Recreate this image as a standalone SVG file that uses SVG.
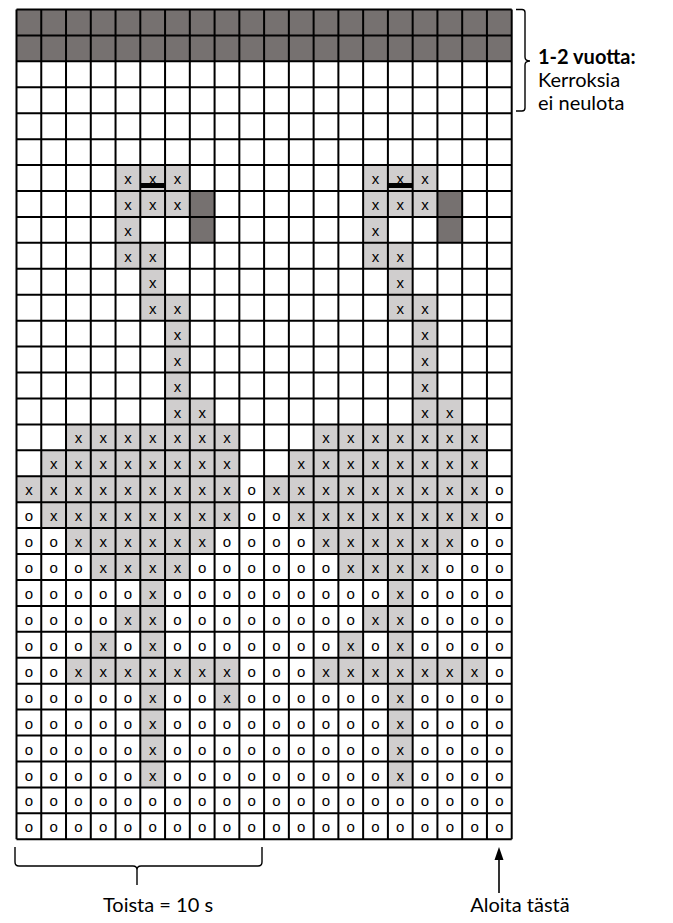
<svg xmlns="http://www.w3.org/2000/svg" width="673" height="923" viewBox="0 0 673 923">
<style>
.dk{fill:#767170}
.lt{fill:#d0cece}
.gl{stroke:#000;stroke-width:2;fill:none}
.s{font-family:"Liberation Sans",Arial,sans-serif;font-size:15px;text-anchor:middle;fill:#000}
.lb{font-family:Lato,"Liberation Sans",sans-serif;font-size:20px;fill:#000}
.br{stroke:#000;stroke-width:1.4;fill:none}
</style>
<rect width="673" height="923" fill="#fff"/>
<g id="fills">
<rect class="dk" x="16.5" y="9.5" width="495.2" height="51.86"/>
<rect class="dk" x="189.82" y="191.01" width="24.76" height="51.86"/>
<rect class="dk" x="437.42" y="191.01" width="24.76" height="51.86"/>
<rect class="lt" x="115.54" y="165.08" width="74.28" height="51.86"/>
<rect class="lt" x="363.14" y="165.08" width="74.28" height="51.86"/>
<rect class="lt" x="115.54" y="216.94" width="24.76" height="51.86"/>
<rect class="lt" x="363.14" y="216.94" width="24.76" height="51.86"/>
<rect class="lt" x="140.3" y="242.87" width="24.76" height="77.79"/>
<rect class="lt" x="387.9" y="242.87" width="24.76" height="77.79"/>
<rect class="lt" x="165.06" y="294.73" width="24.76" height="129.65"/>
<rect class="lt" x="412.66" y="294.73" width="24.76" height="129.65"/>
<rect class="lt" x="189.82" y="398.45" width="24.76" height="25.93"/>
<rect class="lt" x="437.42" y="398.45" width="24.76" height="25.93"/>
<rect class="lt" x="66.02" y="424.38" width="173.32" height="25.93"/>
<rect class="lt" x="313.62" y="424.38" width="173.32" height="25.93"/>
<rect class="lt" x="41.26" y="450.31" width="198.08" height="25.93"/>
<rect class="lt" x="288.86" y="450.31" width="198.08" height="25.93"/>
<rect class="lt" x="16.5" y="476.24" width="222.84" height="25.93"/>
<rect class="lt" x="264.1" y="476.24" width="222.84" height="25.93"/>
<rect class="lt" x="41.26" y="502.17" width="198.08" height="25.93"/>
<rect class="lt" x="288.86" y="502.17" width="198.08" height="25.93"/>
<rect class="lt" x="66.02" y="528.1" width="148.56" height="25.93"/>
<rect class="lt" x="313.62" y="528.1" width="148.56" height="25.93"/>
<rect class="lt" x="90.78" y="554.03" width="99.04" height="25.93"/>
<rect class="lt" x="338.38" y="554.03" width="99.04" height="25.93"/>
<rect class="lt" x="140.3" y="579.96" width="24.76" height="207.44"/>
<rect class="lt" x="387.9" y="579.96" width="24.76" height="207.44"/>
<rect class="lt" x="115.54" y="605.89" width="24.76" height="25.93"/>
<rect class="lt" x="363.14" y="605.89" width="24.76" height="25.93"/>
<rect class="lt" x="90.78" y="631.82" width="24.76" height="25.93"/>
<rect class="lt" x="338.38" y="631.82" width="24.76" height="25.93"/>
<rect class="lt" x="66.02" y="657.75" width="173.32" height="25.93"/>
<rect class="lt" x="313.62" y="657.75" width="173.32" height="25.93"/>
<rect class="lt" x="214.58" y="683.68" width="24.76" height="25.93"/>
</g>
<g id="gridlines" class="gl">
<path d="M16.5 9.5V839.26M41.26 9.5V839.26M66.02 9.5V839.26M90.78 9.5V839.26M115.54 9.5V839.26M140.3 9.5V839.26M165.06 9.5V839.26M189.82 9.5V839.26M214.58 9.5V839.26M239.34 9.5V839.26M264.1 9.5V839.26M288.86 9.5V839.26M313.62 9.5V839.26M338.38 9.5V839.26M363.14 9.5V839.26M387.9 9.5V839.26M412.66 9.5V839.26M437.42 9.5V839.26M462.18 9.5V839.26M486.94 9.5V839.26M511.7 9.5V839.26"/>
<path d="M16.5 9.5H511.7M16.5 35.43H511.7M16.5 61.36H511.7M16.5 87.29H511.7M16.5 113.22H511.7M16.5 139.15H511.7M16.5 165.08H511.7M16.5 191.01H511.7M16.5 216.94H511.7M16.5 242.87H511.7M16.5 268.8H511.7M16.5 294.73H511.7M16.5 320.66H511.7M16.5 346.59H511.7M16.5 372.52H511.7M16.5 398.45H511.7M16.5 424.38H511.7M16.5 450.31H511.7M16.5 476.24H511.7M16.5 502.17H511.7M16.5 528.1H511.7M16.5 554.03H511.7M16.5 579.96H511.7M16.5 605.89H511.7M16.5 631.82H511.7M16.5 657.75H511.7M16.5 683.68H511.7M16.5 709.61H511.7M16.5 735.54H511.7M16.5 761.47H511.7M16.5 787.4H511.7M16.5 813.33H511.7M16.5 839.26H511.7"/>
</g>
<g id="symbols" class="s">
<text x="127.92" y="184.1">x</text><text x="152.68" y="184.1">x</text><text x="177.44" y="184.1">x</text>
<text x="375.52" y="184.1">x</text><text x="400.28" y="184.1">x</text><text x="425.04" y="184.1">x</text>
<text x="127.92" y="210">x</text><text x="152.68" y="210">x</text><text x="177.44" y="210">x</text>
<text x="375.52" y="210">x</text><text x="400.28" y="210">x</text><text x="425.04" y="210">x</text>
<text x="127.92" y="235.9">x</text><text x="375.52" y="235.9">x</text>
<text x="127.92" y="261.9">x</text><text x="152.68" y="261.9">x</text>
<text x="375.52" y="261.9">x</text><text x="400.28" y="261.9">x</text>
<text x="152.68" y="287.8">x</text><text x="400.28" y="287.8">x</text>
<text x="152.68" y="313.7">x</text><text x="177.44" y="313.7">x</text>
<text x="400.28" y="313.7">x</text><text x="425.04" y="313.7">x</text>
<text x="177.44" y="339.7">x</text><text x="425.04" y="339.7">x</text>
<text x="177.44" y="365.6">x</text><text x="425.04" y="365.6">x</text>
<text x="177.44" y="391.5">x</text><text x="425.04" y="391.5">x</text>
<text x="177.44" y="417.5">x</text><text x="202.2" y="417.5">x</text>
<text x="425.04" y="417.5">x</text><text x="449.8" y="417.5">x</text>
<text x="78.4" y="443.4">x</text><text x="103.16" y="443.4">x</text><text x="127.92" y="443.4">x</text><text x="152.68" y="443.4">x</text><text x="177.44" y="443.4">x</text><text x="202.2" y="443.4">x</text><text x="226.96" y="443.4">x</text>
<text x="326" y="443.4">x</text><text x="350.76" y="443.4">x</text><text x="375.52" y="443.4">x</text><text x="400.28" y="443.4">x</text><text x="425.04" y="443.4">x</text><text x="449.8" y="443.4">x</text><text x="474.56" y="443.4">x</text>
<text x="53.64" y="469.3">x</text><text x="78.4" y="469.3">x</text><text x="103.16" y="469.3">x</text><text x="127.92" y="469.3">x</text><text x="152.68" y="469.3">x</text><text x="177.44" y="469.3">x</text><text x="202.2" y="469.3">x</text><text x="226.96" y="469.3">x</text>
<text x="301.24" y="469.3">x</text><text x="326" y="469.3">x</text><text x="350.76" y="469.3">x</text><text x="375.52" y="469.3">x</text><text x="400.28" y="469.3">x</text><text x="425.04" y="469.3">x</text><text x="449.8" y="469.3">x</text><text x="474.56" y="469.3">x</text>
<text x="28.88" y="495.2">x</text><text x="53.64" y="495.2">x</text><text x="78.4" y="495.2">x</text><text x="103.16" y="495.2">x</text><text x="127.92" y="495.2">x</text><text x="152.68" y="495.2">x</text><text x="177.44" y="495.2">x</text><text x="202.2" y="495.2">x</text><text x="226.96" y="495.2">x</text><text x="251.72" y="495.2">o</text>
<text x="276.48" y="495.2">x</text><text x="301.24" y="495.2">x</text><text x="326" y="495.2">x</text><text x="350.76" y="495.2">x</text><text x="375.52" y="495.2">x</text><text x="400.28" y="495.2">x</text><text x="425.04" y="495.2">x</text><text x="449.8" y="495.2">x</text><text x="474.56" y="495.2">x</text><text x="499.32" y="495.2">o</text>
<text x="28.88" y="521.2">o</text><text x="53.64" y="521.2">x</text><text x="78.4" y="521.2">x</text><text x="103.16" y="521.2">x</text><text x="127.92" y="521.2">x</text><text x="152.68" y="521.2">x</text><text x="177.44" y="521.2">x</text><text x="202.2" y="521.2">x</text><text x="226.96" y="521.2">x</text><text x="251.72" y="521.2">o</text>
<text x="276.48" y="521.2">o</text><text x="301.24" y="521.2">x</text><text x="326" y="521.2">x</text><text x="350.76" y="521.2">x</text><text x="375.52" y="521.2">x</text><text x="400.28" y="521.2">x</text><text x="425.04" y="521.2">x</text><text x="449.8" y="521.2">x</text><text x="474.56" y="521.2">x</text><text x="499.32" y="521.2">o</text>
<text x="28.88" y="547.1">o</text><text x="53.64" y="547.1">o</text><text x="78.4" y="547.1">x</text><text x="103.16" y="547.1">x</text><text x="127.92" y="547.1">x</text><text x="152.68" y="547.1">x</text><text x="177.44" y="547.1">x</text><text x="202.2" y="547.1">x</text><text x="226.96" y="547.1">o</text><text x="251.72" y="547.1">o</text>
<text x="276.48" y="547.1">o</text><text x="301.24" y="547.1">o</text><text x="326" y="547.1">x</text><text x="350.76" y="547.1">x</text><text x="375.52" y="547.1">x</text><text x="400.28" y="547.1">x</text><text x="425.04" y="547.1">x</text><text x="449.8" y="547.1">x</text><text x="474.56" y="547.1">o</text><text x="499.32" y="547.1">o</text>
<text x="28.88" y="573">o</text><text x="53.64" y="573">o</text><text x="78.4" y="573">o</text><text x="103.16" y="573">x</text><text x="127.92" y="573">x</text><text x="152.68" y="573">x</text><text x="177.44" y="573">x</text><text x="202.2" y="573">o</text><text x="226.96" y="573">o</text><text x="251.72" y="573">o</text>
<text x="276.48" y="573">o</text><text x="301.24" y="573">o</text><text x="326" y="573">o</text><text x="350.76" y="573">x</text><text x="375.52" y="573">x</text><text x="400.28" y="573">x</text><text x="425.04" y="573">x</text><text x="449.8" y="573">o</text><text x="474.56" y="573">o</text><text x="499.32" y="573">o</text>
<text x="28.88" y="599">o</text><text x="53.64" y="599">o</text><text x="78.4" y="599">o</text><text x="103.16" y="599">o</text><text x="127.92" y="599">o</text><text x="152.68" y="599">x</text><text x="177.44" y="599">o</text><text x="202.2" y="599">o</text><text x="226.96" y="599">o</text><text x="251.72" y="599">o</text>
<text x="276.48" y="599">o</text><text x="301.24" y="599">o</text><text x="326" y="599">o</text><text x="350.76" y="599">o</text><text x="375.52" y="599">o</text><text x="400.28" y="599">x</text><text x="425.04" y="599">o</text><text x="449.8" y="599">o</text><text x="474.56" y="599">o</text><text x="499.32" y="599">o</text>
<text x="28.88" y="624.9">o</text><text x="53.64" y="624.9">o</text><text x="78.4" y="624.9">o</text><text x="103.16" y="624.9">o</text><text x="127.92" y="624.9">x</text><text x="152.68" y="624.9">x</text><text x="177.44" y="624.9">o</text><text x="202.2" y="624.9">o</text><text x="226.96" y="624.9">o</text><text x="251.72" y="624.9">o</text>
<text x="276.48" y="624.9">o</text><text x="301.24" y="624.9">o</text><text x="326" y="624.9">o</text><text x="350.76" y="624.9">o</text><text x="375.52" y="624.9">x</text><text x="400.28" y="624.9">x</text><text x="425.04" y="624.9">o</text><text x="449.8" y="624.9">o</text><text x="474.56" y="624.9">o</text><text x="499.32" y="624.9">o</text>
<text x="28.88" y="650.8">o</text><text x="53.64" y="650.8">o</text><text x="78.4" y="650.8">o</text><text x="103.16" y="650.8">x</text><text x="127.92" y="650.8">o</text><text x="152.68" y="650.8">x</text><text x="177.44" y="650.8">o</text><text x="202.2" y="650.8">o</text><text x="226.96" y="650.8">o</text><text x="251.72" y="650.8">o</text>
<text x="276.48" y="650.8">o</text><text x="301.24" y="650.8">o</text><text x="326" y="650.8">o</text><text x="350.76" y="650.8">x</text><text x="375.52" y="650.8">o</text><text x="400.28" y="650.8">x</text><text x="425.04" y="650.8">o</text><text x="449.8" y="650.8">o</text><text x="474.56" y="650.8">o</text><text x="499.32" y="650.8">o</text>
<text x="28.88" y="676.8">o</text><text x="53.64" y="676.8">o</text><text x="78.4" y="676.8">x</text><text x="103.16" y="676.8">x</text><text x="127.92" y="676.8">x</text><text x="152.68" y="676.8">x</text><text x="177.44" y="676.8">x</text><text x="202.2" y="676.8">x</text><text x="226.96" y="676.8">x</text><text x="251.72" y="676.8">o</text>
<text x="276.48" y="676.8">o</text><text x="301.24" y="676.8">o</text><text x="326" y="676.8">x</text><text x="350.76" y="676.8">x</text><text x="375.52" y="676.8">x</text><text x="400.28" y="676.8">x</text><text x="425.04" y="676.8">x</text><text x="449.8" y="676.8">x</text><text x="474.56" y="676.8">x</text><text x="499.32" y="676.8">o</text>
<text x="28.88" y="702.7">o</text><text x="53.64" y="702.7">o</text><text x="78.4" y="702.7">o</text><text x="103.16" y="702.7">o</text><text x="127.92" y="702.7">o</text><text x="152.68" y="702.7">x</text><text x="177.44" y="702.7">o</text><text x="202.2" y="702.7">o</text><text x="226.96" y="702.7">x</text><text x="251.72" y="702.7">o</text>
<text x="276.48" y="702.7">o</text><text x="301.24" y="702.7">o</text><text x="326" y="702.7">o</text><text x="350.76" y="702.7">o</text><text x="375.52" y="702.7">o</text><text x="400.28" y="702.7">x</text><text x="425.04" y="702.7">o</text><text x="449.8" y="702.7">o</text><text x="474.56" y="702.7">o</text><text x="499.32" y="702.7">o</text>
<text x="28.88" y="728.6">o</text><text x="53.64" y="728.6">o</text><text x="78.4" y="728.6">o</text><text x="103.16" y="728.6">o</text><text x="127.92" y="728.6">o</text><text x="152.68" y="728.6">x</text><text x="177.44" y="728.6">o</text><text x="202.2" y="728.6">o</text><text x="226.96" y="728.6">o</text><text x="251.72" y="728.6">o</text>
<text x="276.48" y="728.6">o</text><text x="301.24" y="728.6">o</text><text x="326" y="728.6">o</text><text x="350.76" y="728.6">o</text><text x="375.52" y="728.6">o</text><text x="400.28" y="728.6">x</text><text x="425.04" y="728.6">o</text><text x="449.8" y="728.6">o</text><text x="474.56" y="728.6">o</text><text x="499.32" y="728.6">o</text>
<text x="28.88" y="754.5">o</text><text x="53.64" y="754.5">o</text><text x="78.4" y="754.5">o</text><text x="103.16" y="754.5">o</text><text x="127.92" y="754.5">o</text><text x="152.68" y="754.5">x</text><text x="177.44" y="754.5">o</text><text x="202.2" y="754.5">o</text><text x="226.96" y="754.5">o</text><text x="251.72" y="754.5">o</text>
<text x="276.48" y="754.5">o</text><text x="301.24" y="754.5">o</text><text x="326" y="754.5">o</text><text x="350.76" y="754.5">o</text><text x="375.52" y="754.5">o</text><text x="400.28" y="754.5">x</text><text x="425.04" y="754.5">o</text><text x="449.8" y="754.5">o</text><text x="474.56" y="754.5">o</text><text x="499.32" y="754.5">o</text>
<text x="28.88" y="780.5">o</text><text x="53.64" y="780.5">o</text><text x="78.4" y="780.5">o</text><text x="103.16" y="780.5">o</text><text x="127.92" y="780.5">o</text><text x="152.68" y="780.5">x</text><text x="177.44" y="780.5">o</text><text x="202.2" y="780.5">o</text><text x="226.96" y="780.5">o</text><text x="251.72" y="780.5">o</text>
<text x="276.48" y="780.5">o</text><text x="301.24" y="780.5">o</text><text x="326" y="780.5">o</text><text x="350.76" y="780.5">o</text><text x="375.52" y="780.5">o</text><text x="400.28" y="780.5">x</text><text x="425.04" y="780.5">o</text><text x="449.8" y="780.5">o</text><text x="474.56" y="780.5">o</text><text x="499.32" y="780.5">o</text>
<text x="28.88" y="806.4">o</text><text x="53.64" y="806.4">o</text><text x="78.4" y="806.4">o</text><text x="103.16" y="806.4">o</text><text x="127.92" y="806.4">o</text><text x="152.68" y="806.4">o</text><text x="177.44" y="806.4">o</text><text x="202.2" y="806.4">o</text><text x="226.96" y="806.4">o</text><text x="251.72" y="806.4">o</text>
<text x="276.48" y="806.4">o</text><text x="301.24" y="806.4">o</text><text x="326" y="806.4">o</text><text x="350.76" y="806.4">o</text><text x="375.52" y="806.4">o</text><text x="400.28" y="806.4">o</text><text x="425.04" y="806.4">o</text><text x="449.8" y="806.4">o</text><text x="474.56" y="806.4">o</text><text x="499.32" y="806.4">o</text>
<text x="28.88" y="832.3">o</text><text x="53.64" y="832.3">o</text><text x="78.4" y="832.3">o</text><text x="103.16" y="832.3">o</text><text x="127.92" y="832.3">o</text><text x="152.68" y="832.3">o</text><text x="177.44" y="832.3">o</text><text x="202.2" y="832.3">o</text><text x="226.96" y="832.3">o</text><text x="251.72" y="832.3">o</text>
<text x="276.48" y="832.3">o</text><text x="301.24" y="832.3">o</text><text x="326" y="832.3">o</text><text x="350.76" y="832.3">o</text><text x="375.52" y="832.3">o</text><text x="400.28" y="832.3">o</text><text x="425.04" y="832.3">o</text><text x="449.8" y="832.3">o</text><text x="474.56" y="832.3">o</text><text x="499.32" y="832.3">o</text>
</g>
<g id="bars">
<rect x="140.3" y="183" width="24.76" height="5" fill="#000"/>
<rect x="387.9" y="183" width="24.76" height="5" fill="#000"/>
</g>
<g id="note-top">
<path class="br" d="M516 9.5H522Q525 9.5 525 12.5V57Q525 61 530 61Q525 61 525 65V108Q525 111 522 111H516"/>
<text class="lb" x="538" y="64" font-weight="bold">1-2 vuotta:</text>
<text class="lb" x="538" y="87">Kerroksia</text>
<text class="lb" x="538" y="110">ei neulota</text>
</g>
<g id="note-repeat">
<path class="br" d="M15 847V862Q15 866 19 866H133Q137 866 137 870V885M137 870Q137 866 141 866H258Q262 866 262 862V847"/>
<text class="lb" x="158" y="912" text-anchor="middle">Toista = 10 s</text>
</g>
<g id="note-start">
<path d="M499 847L494.5 860H503.5Z" fill="#000"/>
<line x1="499" y1="858" x2="499" y2="893" stroke="#000" stroke-width="1.6"/>
<text class="lb" x="520" y="912" text-anchor="middle">Aloita tästä</text>
</g>
</svg>
